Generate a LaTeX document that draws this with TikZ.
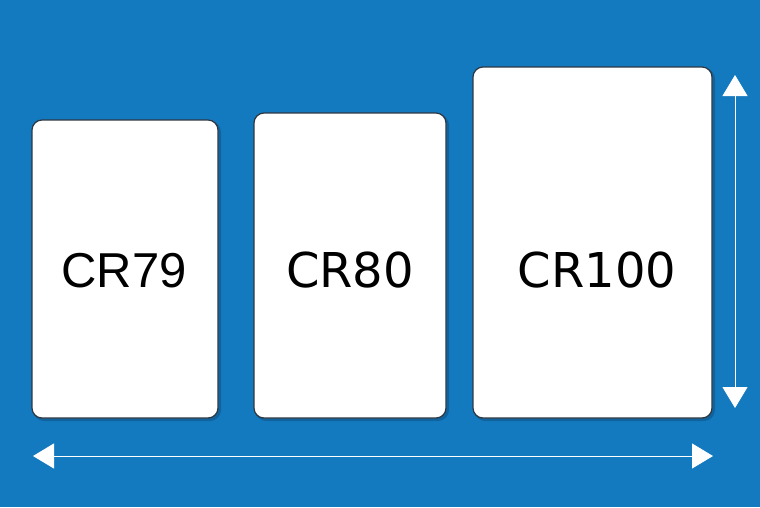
\documentclass[tikz,border=0pt]{standalone}
\usepackage{fontspec}
\newfontfamily\verd{DejaVu Sans}
\newfontfamily\arial{Liberation Sans}
\usetikzlibrary{arrows.meta}
\definecolor{bgblue}{RGB}{20,122,192}
\definecolor{cardedge}{RGB}{45,55,65}
\tikzset{
  card/.style={draw=cardedge, line width=1.2pt, fill=white, rounded corners=10pt},
  cardshadow/.style={fill=black, opacity=0.18, rounded corners=11pt},
  sizearrow/.style={draw=white, line width=1pt, {Triangle[length=21pt,width=25pt]}-{Triangle[length=21pt,width=25pt]}},
  label/.style={anchor=base, text=black, inner sep=0pt}
}
\begin{document}
\begin{tikzpicture}[x=1pt,y=-1pt]
\useasboundingbox (0,0) rectangle (760,507);
\fill[bgblue] (0,0) rectangle (760,507);
% shadows
\fill[cardshadow] (33,121) rectangle (221,421);
\fill[cardshadow] (255,114) rectangle (449,421);
\fill[cardshadow] (474,68) rectangle (715,421);
% cards
\draw[card] (32,120) rectangle (218,418);
\draw[card] (254,113) rectangle (446,418);
\draw[card] (473,67) rectangle (712,418);
\node[label, font=\arial\fontsize{49}{49}\selectfont] (t79) at (124,287) {CR79};
\node[label, font=\verd\fontsize{48}{48}\selectfont] (t80) at (350,287) {CR80};
\node[label, font=\verd\fontsize{48}{48}\selectfont] (t100) at (597,287) {CR100};
% arrows
\coordinate (vtop) at (735,75);
\coordinate (vbot) at (735,408);
\coordinate (hl) at (33,456);
\coordinate (hr) at (713,456);
\draw[sizearrow] (vtop) -- (vbot);
\draw[sizearrow] (hl) -- (hr);
\end{tikzpicture}
\end{document}
